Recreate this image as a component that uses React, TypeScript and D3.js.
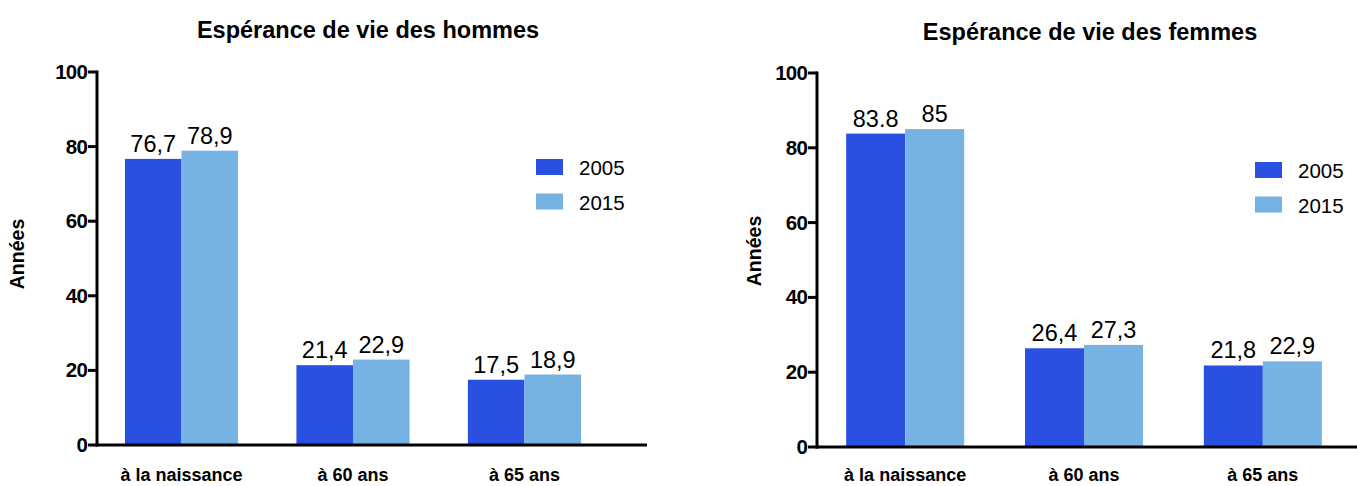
import React from "react";
import * as d3 from "d3";

const categories = ["à la naissance", "à 60 ans", "à 65 ans"];
const years = ["2005", "2015"];
const hommes2005 = [76.7, 21.4, 17.5];
const hommes2015 = [78.9, 22.9, 18.9];
const hommesLabels2005 = ["76,7", "21,4", "17,5"];
const hommesLabels2015 = ["78,9", "22,9", "18,9"];
const femmes2005 = [83.8, 26.4, 21.8];
const femmes2015 = [85, 27.3, 22.9];
const femmesLabels2005 = ["83.8", "26,4", "21,8"];
const femmesLabels2015 = ["85", "27,3", "22,9"];
const yTicks = [0, 20, 40, 60, 80, 100];

const colors = ["#2A50E2", "#76B3E3"];
const FONT = "'Liberation Sans', Arial, Helvetica, sans-serif";

type PanelProps = {
  title: string;
  v2005: number[];
  v2015: number[];
  l2005: string[];
  l2015: string[];
  axisX: number;
  axisEnd: number;
  bandStart: number;
  bandEnd: number;
  y0: number;
  y100: number;
  titleX: number;
  titleY: number;
  legendX: number;
  legendY: number;
  yTitleX: number;
  yTitleY: number;
};

function Panel(p: PanelProps) {
  const x = d3
    .scaleBand<string>()
    .domain(categories)
    .range([p.bandStart, p.bandEnd])
    .paddingInner(0.34)
    .paddingOuter(0.163);
  const xs = d3.scaleBand<string>().domain(years).range([0, x.bandwidth()]);
  const y = d3.scaleLinear().domain([0, 100]).range([p.y0, p.y100]);
  const series = [
    { year: years[0], vals: p.v2005, labels: p.l2005 },
    { year: years[1], vals: p.v2015, labels: p.l2015 },
  ];
  return (
    <g>
      <text
        x={p.titleX}
        y={p.titleY}
        textAnchor="middle"
        fontFamily={FONT}
        fontWeight="bold"
        fontSize={23.5}
      >
        {p.title}
      </text>
      {series.map((s, si) =>
        categories.map((c, ci) => {
          const bx = (x(c) as number) + (xs(s.year) as number);
          const by = y(s.vals[ci]);
          return (
            <g key={`${si}-${ci}`}>
              <rect
                x={bx}
                y={by}
                width={xs.bandwidth()}
                height={y(0) - by}
                fill={colors[si]}
              />
              <text
                x={bx + xs.bandwidth() / 2}
                y={by - 7}
                textAnchor="middle"
                fontFamily={FONT}
                fontSize={23.5}
              >
                {s.labels[ci]}
              </text>
            </g>
          );
        })
      )}
      <line
        x1={p.axisX}
        x2={p.axisX}
        y1={y(100) - 1.5}
        y2={y(0) + 1.5}
        stroke="#000"
        strokeWidth={3}
      />
      <line
        x1={p.axisX - 1.5}
        x2={p.axisEnd}
        y1={y(0)}
        y2={y(0)}
        stroke="#000"
        strokeWidth={3}
      />
      {yTicks.map((t) => (
        <g key={t}>
          <line
            x1={p.axisX - 9}
            x2={p.axisX}
            y1={y(t)}
            y2={y(t)}
            stroke="#000"
            strokeWidth={3}
          />
          <text
            x={p.axisX - 10}
            y={y(t) + 7}
            textAnchor="end"
            fontFamily={FONT}
            fontWeight="bold"
            fontSize={20.5}
            letterSpacing={-0.8}
          >
            {t}
          </text>
        </g>
      ))}
      {categories.map((c) => (
        <text
          key={c}
          x={(x(c) as number) + x.bandwidth() / 2}
          y={481}
          textAnchor="middle"
          fontFamily={FONT}
          fontWeight="bold"
          fontSize={18}
        >
          {c}
        </text>
      ))}
      <text
        transform={`translate(${p.yTitleX},${p.yTitleY}) rotate(-90)`}
        textAnchor="middle"
        fontFamily={FONT}
        fontWeight="bold"
        fontSize={19.5}
      >
        Années
      </text>
      {years.map((yr, i) => (
        <g key={yr} transform={`translate(${p.legendX},${p.legendY + i * 34.5})`}>
          <rect x={0} y={0} width={27} height={16} fill={colors[i]} />
          <text x={43} y={16} fontFamily={FONT} fontSize={20.5}>
            {yr}
          </text>
        </g>
      ))}
    </g>
  );
}

export default function App() {
  return (
    <svg
      width={1357}
      height={486}
      style={{ position: "absolute", left: 0, top: 0, background: "#fff" }}
    >
      <Panel
        title="Espérance de vie des hommes"
        v2005={hommes2005}
        v2015={hommes2015}
        l2005={hommesLabels2005}
        l2015={hommesLabels2015}
        axisX={97}
        axisEnd={647}
        bandStart={97}
        bandEnd={609}
        y0={445}
        y100={72}
        titleX={368}
        titleY={38}
        legendX={536}
        legendY={159}
        yTitleX={24}
        yTitleY={254}
      />
      <Panel
        title="Espérance de vie des femmes"
        v2005={femmes2005}
        v2015={femmes2015}
        l2005={femmesLabels2005}
        l2015={femmesLabels2015}
        axisX={817}
        axisEnd={1357}
        bandStart={817}
        bandEnd={1351}
        y0={447}
        y100={73}
        titleX={1090}
        titleY={40}
        legendX={1255}
        legendY={162}
        yTitleX={761}
        yTitleY={251}
      />
    </svg>
  );
}
